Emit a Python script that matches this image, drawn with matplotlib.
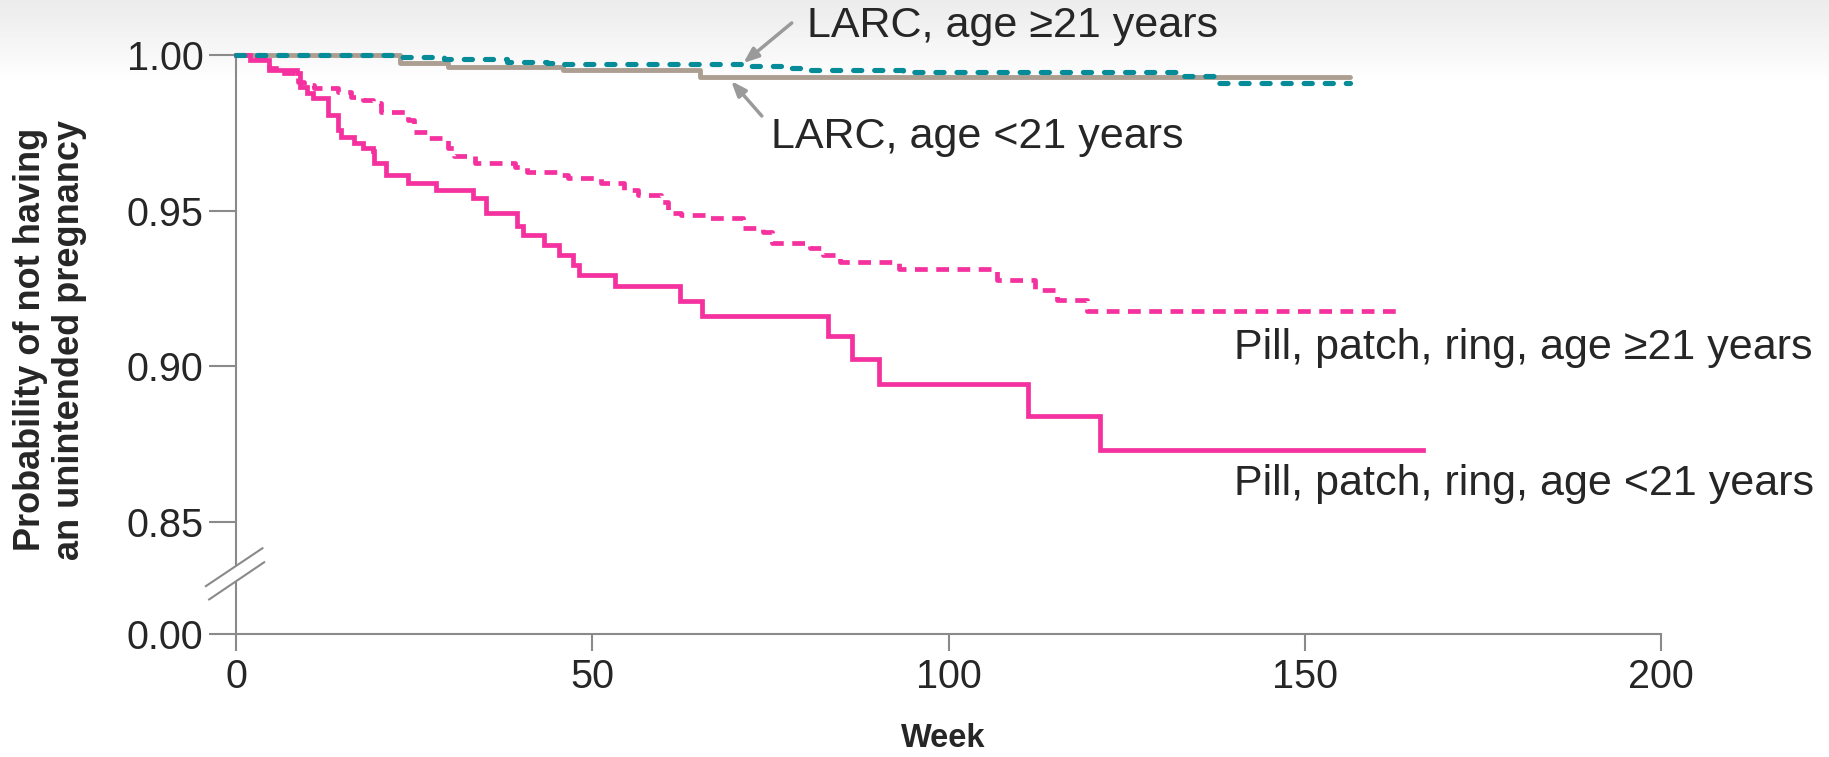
import numpy as np
import matplotlib
matplotlib.use("Agg")
import matplotlib.pyplot as plt

plt.rcParams["font.family"] = ["Liberation Sans", "DejaVu Sans"]

# ---- colours ----
PINK = "#f4319f"
TEAL = "#068c98"
TAN = "#ad9e92"
AXIS = "#8a8a8a"
ARROW = "#9a9a9a"
TEXT = "#262626"

# ---- Kaplan-Meier steps (week where the level starts, probability) ----
pill_lt21_week = [0, 2.0, 4.7, 8.5, 9.0, 10.0, 10.8, 12.9, 14.3, 14.7, 16.6, 17.8, 19.2, 19.4,
                  21.1, 24.1, 28.1, 33.2, 35.1, 39.5, 40.3, 43.2, 45.4, 47.3, 48.1, 53.2, 62.3,
                  65.4, 83.1, 86.4, 90.3, 111.2, 121.3, 166.6]
pill_lt21_prob = [1.0, 0.9985, 0.9952, 0.9941, 0.9898, 0.9877, 0.9861, 0.9807, 0.9759, 0.9738,
                  0.9716, 0.9700, 0.9690, 0.9652, 0.9615, 0.9588, 0.9567, 0.9540, 0.9492, 0.9449,
                  0.9423, 0.9390, 0.9358, 0.9326, 0.9294, 0.9256, 0.9208, 0.9162, 0.9098, 0.9023,
                  0.8943, 0.8841, 0.8729, 0.8729]

pill_ge21_week = [0, 2.3, 4.7, 6.3, 8.7, 9.6, 11.0, 14.3, 16.1, 17.8, 19.2, 20.4, 24.1, 25.0,
                  26.9, 29.7, 30.6, 33.5, 39.1, 40.9, 45.6, 46.6, 51.2, 54.5, 56.4, 59.6, 60.6,
                  62.5, 66.3, 71.2, 74.0, 75.2, 80.5, 82.4, 84.8, 93.0, 106.8, 112.1, 115.2,
                  119.4, 163.4]
pill_ge21_prob = [1.0, 0.9989, 0.9957, 0.9941, 0.9914, 0.9904, 0.9893, 0.9882, 0.9866, 0.9855,
                  0.9845, 0.9818, 0.9791, 0.9754, 0.9732, 0.9700, 0.9674, 0.9652, 0.9641, 0.9625,
                  0.9615, 0.9604, 0.9588, 0.9566, 0.9550, 0.9529, 0.9492, 0.9486, 0.9476, 0.9444,
                  0.9432, 0.9395, 0.9379, 0.9358, 0.9336, 0.9312, 0.9277, 0.9245, 0.9211, 0.9176,
                  0.9176]

larc_ge21_week = [0, 22.7, 29.2, 38.1, 43.7, 46.1, 72.1, 76.8, 79.2, 93.6, 132.9, 137.9, 156.4]
larc_ge21_prob = [1.0, 0.9993, 0.9986, 0.9979, 0.9973, 0.9971, 0.9965, 0.9957, 0.9952, 0.9946,
                  0.9933, 0.9911, 0.9911]

larc_lt21_week = [0, 23.0, 29.8, 45.9, 65.1, 156.4]
larc_lt21_prob = [1.0, 0.9975, 0.9962, 0.9952, 0.9930, 0.9930]

y_ticks = [0.0, 0.85, 0.90, 0.95, 1.00]
x_ticks = [0, 50, 100, 150, 200]

# ---- broken y axis: 0 .. 0.85 squeezed into a short stretch ----
BREAK_LO = 0.8139


def fwd(p):
    p = np.asarray(p, dtype=float)
    return np.where(p >= 0.85, p, BREAK_LO + p * (0.85 - BREAK_LO) / 0.85)


def inv(y):
    y = np.asarray(y, dtype=float)
    return np.where(y >= 0.85, y, (y - BREAK_LO) * 0.85 / (0.85 - BREAK_LO))


fig = plt.figure(figsize=(18.29, 7.57), dpi=100)

# faint grey wash at the top, like the slide background
bg = fig.add_axes([0, 0, 1, 1], zorder=-5)
grad = np.linspace(0, 1, 200).reshape(-1, 1)
bg.imshow(np.clip(grad * 9, 0, 1), cmap="gray", vmin=-12, vmax=1, aspect="auto",
          extent=[0, 1, 0, 1], origin="upper")
bg.set_axis_off()

ax = fig.add_axes([236 / 1829, 1 - 634 / 757, 1425 / 1829, 579 / 757])
ax.patch.set_alpha(0)
ax.set_yscale("function", functions=(fwd, inv))
ax.set_xlim(0, 200)
ax.set_ylim(0, 1.0)

ax.step(larc_lt21_week, larc_lt21_prob, where="post", color=TAN, lw=3.5,
        solid_capstyle="round", clip_on=False, zorder=3)
ax.step(larc_ge21_week, larc_ge21_prob, where="post", color=TEAL, lw=3.7,
        dashes=(1.6, 2.5), dash_capstyle="round", clip_on=False, zorder=4)
ax.step(pill_ge21_week, pill_ge21_prob, where="post", color=PINK, lw=3.4,
        dashes=(2.7, 1.8), clip_on=False, zorder=3)
ax.step(pill_lt21_week, pill_lt21_prob, where="post", color=PINK, lw=3.4,
        solid_joinstyle="miter", clip_on=False, zorder=3)

# ---- axes styling ----
for s in ["top", "right", "left"]:
    ax.spines[s].set_visible(False)
ax.spines["bottom"].set_color(AXIS)
ax.spines["bottom"].set_linewidth(1.5)

lk = dict(transform=ax.transAxes, color=AXIS, lw=1.5, clip_on=False, solid_capstyle="butt")
ax.plot([0, 0], [1, 0.1174], **lk)
ax.plot([0, 0], [0.0907, 0], **lk)
ax.plot([-0.02175, 0.01916], [0.0817, 0.1491], **lk)
ax.plot([-0.01944, 0.02035], [0.0587, 0.1249], **lk)

ax.set_yticks(y_ticks)
ax.set_yticklabels([f"{v:.2f}" for v in y_ticks])
ax.set_xticks(x_ticks)
ax.minorticks_off()
ax.tick_params(axis="y", direction="out", length=19.5, width=1.5, color=AXIS,
               pad=4, labelsize=28.5, labelcolor=TEXT)
ax.tick_params(axis="x", direction="out", length=12, width=1.5, color=AXIS,
               pad=5, labelsize=28.5, labelcolor=TEXT)

ax.set_xlabel("Week", fontsize=23.5, fontweight="bold", color=TEXT)
ax.xaxis.set_label_coords(0.496, -0.181)
ax.xaxis.label.set_va("center")
ax.set_ylabel("Probability of not having\nan unintended pregnancy", fontsize=26,
              fontweight="bold", color=TEXT, linespacing=1.15)
ax.yaxis.set_label_coords(-0.1305, 0.508)
ax.yaxis.label.set_va("center")

# ---- curve labels ----
lab = dict(fontsize=31, color=TEXT, ha="left", va="center", annotation_clip=False)
arr = dict(arrowstyle="-|>,head_length=0.9,head_width=0.35", color=ARROW, lw=2.5,
           shrinkA=0, shrinkB=0)
ax.annotate("", xy=(71.2, 0.9974), xytext=(78.0, 1.0103), annotation_clip=False,
            arrowprops=arr)
ax.annotate("LARC, age \u226521 years", xy=(80.1, 1.0093), **lab)
ax.annotate("", xy=(69.5, 0.99165), xytext=(73.8, 0.9804), annotation_clip=False,
            arrowprops=arr)
ax.annotate("LARC, age <21 years", xy=(75.1, 0.9737), **lab)
ax.annotate("Pill, patch, ring, age \u226521 years", xy=(140.1, 0.9058), **lab)
ax.annotate("Pill, patch, ring, age <21 years", xy=(140.1, 0.8620), **lab)

fig.savefig("out.png", dpi=100)
